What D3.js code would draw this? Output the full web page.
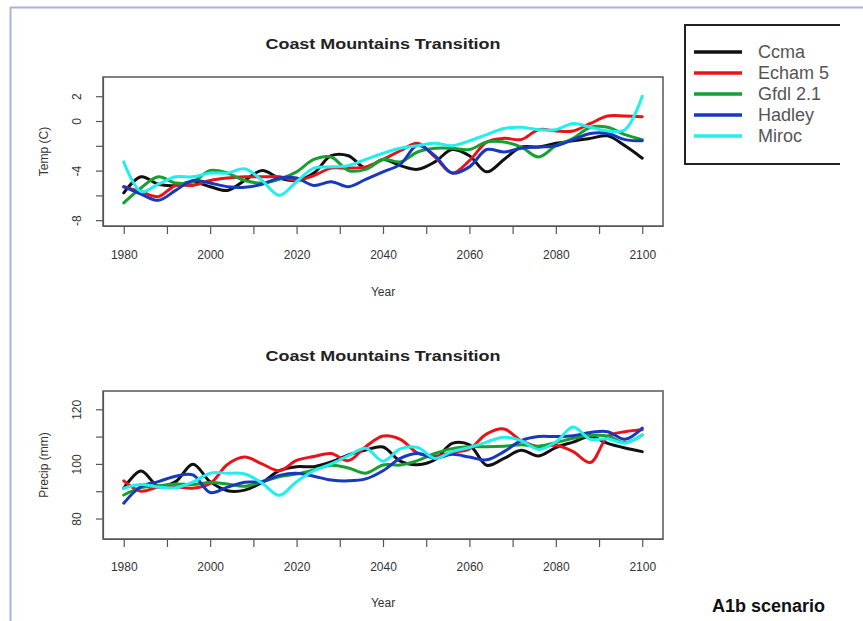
<!DOCTYPE html>
<html>
<head>
<meta charset="utf-8">
<script src="https://cdn.jsdelivr.net/npm/d3@7"></script>
<style>
  body { margin: 0; background: #fff; }
  svg { display: block; font-family: "Liberation Sans", Arial, sans-serif; }
</style>
</head>
<body>
<svg id="chart" width="863" height="621"></svg>
<script>
// years sampled every 4 years, 1980 -> 2100
const years = d3.range(1980, 2101, 4);

const models = ["Ccma", "Echam 5", "Gfdl 2.1", "Hadley", "Miroc"];
const modelColors = ["#111111", "#e8141a", "#15a030", "#1838c0", "#22eeee"];

// temperature (C)
const tempCcma   = [-5.8, -4.5, -5.1, -5.2, -4.9, -5.3, -5.6, -4.8, -4.0, -4.6, -4.8, -4.2, -2.8, -2.8, -3.8, -3.1, -3.6, -3.9, -3.3, -2.3, -2.8, -4.1, -3.1, -2.1, -2.1, -1.8, -1.6, -1.4, -1.2, -2.0, -3.0];
const tempEcham  = [-5.3, -5.7, -6.1, -5.2, -5.2, -4.8, -4.6, -4.5, -4.5, -4.5, -4.8, -4.4, -3.8, -3.8, -3.7, -3.1, -2.4, -1.8, -2.9, -4.2, -3.2, -1.7, -1.4, -1.5, -0.7, -0.8, -0.8, -0.2, 0.4, 0.4, 0.35];
const tempGfdl   = [-6.6, -5.4, -4.5, -5.0, -4.9, -4.0, -4.2, -4.8, -5.0, -4.7, -4.1, -3.1, -2.9, -4.0, -3.9, -3.1, -3.3, -2.5, -2.2, -2.2, -2.3, -1.7, -1.7, -2.1, -2.9, -2.0, -1.4, -0.5, -0.5, -1.1, -1.5];
const tempHadley = [-5.3, -5.9, -6.4, -5.6, -4.8, -5.0, -5.3, -5.35, -5.1, -4.6, -4.6, -5.2, -4.9, -5.3, -4.7, -4.1, -3.5, -1.95, -2.8, -4.2, -3.7, -2.3, -2.5, -2.2, -2.1, -2.0, -1.5, -1.0, -1.0, -1.5, -1.6];
const tempMiroc  = [-3.3, -5.7, -5.1, -4.5, -4.5, -4.2, -4.2, -3.85, -4.8, -6.0, -4.9, -3.8, -3.7, -3.6, -3.1, -2.6, -2.2, -2.0, -1.8, -2.0, -1.6, -1.1, -0.6, -0.5, -0.7, -0.7, -0.2, -0.5, -0.8, -0.7, 2.0];

// precipitation (mm)
const precipCcma   = [91.1, 97.4, 91.8, 93.5, 99.9, 93.5, 90.2, 90.4, 93.2, 97.5, 99.0, 99.0, 100.7, 103.3, 105.1, 106.2, 101.0, 99.7, 101.5, 107.5, 107.0, 99.5, 102.0, 105.0, 102.9, 106.0, 108.0, 110.0, 107.5, 105.8, 104.5];
const precipEcham  = [93.8, 90.0, 91.5, 91.6, 91.1, 92.8, 99.8, 102.5, 100.0, 97.5, 101.3, 102.7, 103.8, 101.2, 106.3, 110.2, 109.0, 104.0, 102.8, 104.2, 105.5, 111.0, 112.8, 108.5, 106.3, 106.8, 104.5, 100.5, 110.0, 111.8, 112.5];
const precipGfdl   = [88.6, 91.3, 92.0, 92.6, 92.5, 93.2, 92.6, 91.8, 93.5, 95.3, 96.3, 97.8, 99.5, 98.5, 96.6, 99.6, 99.6, 101.2, 103.8, 105.6, 106.3, 106.3, 106.5, 107.0, 106.5, 107.8, 109.4, 110.4, 110.2, 107.8, 110.6];
const precipHadley = [85.6, 91.7, 93.5, 95.5, 96.0, 89.5, 91.5, 93.3, 93.5, 95.8, 96.6, 95.5, 94.1, 93.8, 94.5, 97.5, 102.0, 103.8, 102.1, 103.5, 102.5, 101.5, 104.5, 108.5, 110.0, 110.0, 110.3, 111.5, 111.8, 109.0, 113.1];
const precipMiroc  = [91.1, 92.5, 91.5, 91.3, 93.3, 96.6, 96.6, 96.3, 93.0, 88.5, 93.5, 97.5, 100.0, 103.0, 105.7, 101.0, 105.5, 106.0, 102.0, 104.5, 106.0, 108.0, 109.8, 108.5, 105.3, 108.0, 113.5, 109.0, 109.2, 107.6, 110.6];

// axis ticks (R drops some labels where they would crowd)
const yearTicks = d3.range(1980, 2101, 10);
const yearLabels = [1980, 2000, 2020, 2040, 2060, 2080, 2100];
const tempTicks = [-8, -6, -4, -2, 0, 2];
const tempLabels = [-8, -4, 0, 2];
const precipTicks = [80, 90, 100, 110, 120];
const precipLabels = [80, 100, 120];

const titleText = "Coast Mountains Transition";

//-----------------------------------------------------------------------------

const svg = d3.select("#chart");

// light frame of the slide
svg.append("line").attr("x1", 10).attr("x2", 863).attr("y1", 7.5).attr("y2", 7.5)
  .attr("stroke", "#aab2da").attr("stroke-width", 2);
svg.append("line").attr("x1", 10.5).attr("x2", 10.5).attr("y1", 7).attr("y2", 621)
  .attr("stroke", "#aab2da").attr("stroke-width", 2);

function drawPanel(opts) {
  const box = opts.box; // left, right, top, bottom of plot region
  const g = svg.append("g");

  const x = d3.scaleLinear()
      .domain([1980 - 4.8, 2100 + 4.8])
      .range([box.left, box.right]);

  const y = d3.scaleLinear()
      .domain(opts.yDomain)
      .range([box.bottom, box.top]);

  // series lines
  const line = d3.line()
      .x((d, i) => x(years[i]))
      .y(d => y(d))
      .curve(d3.curveCatmullRom.alpha(0.5));

  opts.series.forEach((vals, i) => {
    g.append("path")
      .datum(vals)
      .attr("fill", "none")
      .attr("stroke", modelColors[i])
      .attr("stroke-width", 3)
      .attr("stroke-linejoin", "round")
      .attr("stroke-linecap", "round")
      .attr("d", line);
  });

  // plot box
  g.append("rect")
    .attr("x", box.left).attr("y", box.top)
    .attr("width", box.right - box.left).attr("height", box.bottom - box.top)
    .attr("fill", "none").attr("stroke", "#555").attr("stroke-width", 1.5);

  // x axis
  const xAxis = g.append("g")
    .attr("transform", `translate(0, ${box.bottom})`)
    .call(d3.axisBottom(x)
      .tickValues(yearTicks)
      .tickSize(8)
      .tickSizeOuter(0)
      .tickPadding(opts.xPad)
      .tickFormat(d => yearLabels.includes(d) ? d : ""));

  xAxis.select(".domain").attr("stroke", "#555").attr("stroke-width", 1.2);
  xAxis.selectAll(".tick line").attr("stroke", "#555").attr("stroke-width", 1.2);
  xAxis.selectAll("text")
    .attr("font-size", "12px")
    .attr("font-family", "Liberation Sans, Arial, sans-serif")
    .attr("fill", "#333");

  // y axis, labels turned to run along the axis
  const yAxis = g.append("g")
    .attr("transform", `translate(${box.left}, 0)`)
    .call(d3.axisLeft(y)
      .tickValues(opts.yTicks)
      .tickSize(7)
      .tickSizeOuter(0)
      .tickFormat(d => opts.yLabels.includes(d) ? d : ""));

  yAxis.select(".domain").attr("stroke", "#555").attr("stroke-width", 1.2);
  yAxis.selectAll(".tick line").attr("stroke", "#555").attr("stroke-width", 1.2);
  yAxis.selectAll("text")
    .attr("x", null).attr("dy", null)
    .attr("text-anchor", "middle")
    .attr("transform", "translate(-22,0) rotate(-90)")
    .attr("font-size", "12px")
    .attr("font-family", "Liberation Sans, Arial, sans-serif")
    .attr("fill", "#333");

  const midX = (box.left + box.right) / 2;
  const midY = (box.top + box.bottom) / 2;

  // title
  g.append("text")
    .attr("x", midX).attr("y", opts.titleY)
    .attr("text-anchor", "middle")
    .attr("font-size", "14px")
    .attr("font-weight", "bold")
    .attr("fill", "#222")
    .attr("textLength", 235)
    .attr("lengthAdjust", "spacingAndGlyphs")
    .text(titleText);

  // axis titles
  g.append("text")
    .attr("x", midX).attr("y", opts.yearY)
    .attr("text-anchor", "middle")
    .attr("font-size", "12px")
    .attr("fill", "#333")
    .text("Year");

  g.append("text")
    .attr("transform", `translate(48, ${midY}) rotate(-90)`)
    .attr("text-anchor", "middle")
    .attr("font-size", "12px")
    .attr("fill", "#333")
    .text(opts.yTitle);
}

drawPanel({
  box: {left: 103, right: 663, top: 77, bottom: 226},
  yDomain: [-8.47, 3.55],
  yTicks: tempTicks,
  yLabels: tempLabels,
  series: [tempCcma, tempEcham, tempGfdl, tempHadley, tempMiroc],
  yTitle: "Temp (C)",
  titleY: 49,
  yearY: 296,
  xPad: 16
});

drawPanel({
  box: {left: 103, right: 663, top: 391, bottom: 539},
  yDomain: [72.5, 126.7],
  yTicks: precipTicks,
  yLabels: precipLabels,
  series: [precipCcma, precipEcham, precipGfdl, precipHadley, precipMiroc],
  yTitle: "Precip (mm)",
  titleY: 361,
  yearY: 607,
  xPad: 15
});

//-----------------------------------------------------------------------------

// legend (its right edge is cut off in the original)
const legend = svg.append("g");
legend.append("path")
  .attr("d", "M840,25 H685 V164 H840")
  .attr("fill", "none")
  .attr("stroke", "#222")
  .attr("stroke-width", 2);

models.forEach((name, i) => {
  const yy = 52 + i * 21;
  legend.append("line")
    .attr("x1", 694).attr("x2", 742)
    .attr("y1", yy).attr("y2", yy)
    .attr("stroke", modelColors[i])
    .attr("stroke-width", 3.5);
  legend.append("text")
    .attr("x", 758).attr("y", yy + 6)
    .attr("font-size", "18px")
    .attr("fill", "#555")
    .text(name);
});

// scenario note
svg.append("text")
  .attr("x", 712).attr("y", 612)
  .attr("font-size", "18px")
  .attr("font-weight", "bold")
  .attr("fill", "#111")
  .text("A1b scenario");
</script>
</body>
</html>
